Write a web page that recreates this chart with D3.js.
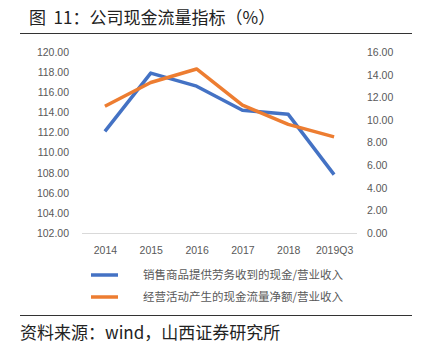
<!DOCTYPE html>
<html>
  <head>
    <meta charset="utf-8">
    <script src="https://d3js.org/d3.v7.min.js"></script>
    <style>
      body { margin: 0; background: #fff; }
      text { font-family: "Liberation Sans", Arial, sans-serif; }
      .cjk { font-family: "Noto Sans CJK SC", sans-serif; }
    </style>
  </head>
  <body>
    <svg width="424" height="349"></svg>
    <script>
      const years = ["2014", "2015", "2016", "2017", "2018", "2019Q3"];
      const salesCash = [112.1, 117.9, 116.6, 114.2, 113.8, 107.8];
      const opCashFlow = [11.2, 13.3, 14.5, 11.3, 9.6, 8.5];
      const leftTicks = [102, 104, 106, 108, 110, 112, 114, 116, 118, 120];
      const rightTicks = [0, 2, 4, 6, 8, 10, 12, 14, 16];
      const seriesNames = ["销售商品提供劳务收到的现金/营业收入", "经营活动产生的现金流量净额/营业收入"];
      const colors = ["#4472C4", "#ED7D31"];

      const svg = d3.select("svg");

      // title + rules
      svg.append("text").attr("class", "cjk")
        .attr("x", 29).attr("y", 24)
        .attr("font-size", 17).attr("fill", "#222")
        .style("white-space", "pre")
        .text("图  11：公司现金流量指标（%）");
      svg.append("line").attr("x1", 20).attr("x2", 412).attr("y1", 33.5).attr("y2", 33.5)
        .attr("stroke", "#333").attr("stroke-width", 1);
      svg.append("line").attr("x1", 20).attr("x2", 412).attr("y1", 315.5).attr("y2", 315.5)
        .attr("stroke", "#333").attr("stroke-width", 1);
      svg.append("text").attr("class", "cjk")
        .attr("x", 20).attr("y", 339)
        .attr("font-size", 17).attr("fill", "#222")
        .text("资料来源：wind，山西证券研究所");

      const plotL = 82, plotR = 357, plotT = 52, plotB = 233;

      const x = d3.scalePoint().domain(years).range([plotL, plotR]).padding(0.5);
      const yL = d3.scaleLinear().domain([102, 120]).range([plotB, plotT]);
      const yR = d3.scaleLinear().domain([0, 16]).range([plotB, plotT]);

      // baseline
      svg.append("line").attr("x1", plotL).attr("x2", plotR)
        .attr("y1", plotB + 0.5).attr("y2", plotB + 0.5)
        .attr("stroke", "#d9d9d9").attr("stroke-width", 1);

      const axL = svg.append("g").attr("transform", `translate(${plotL - 13},0)`)
        .call(d3.axisLeft(yL).tickValues(leftTicks).tickFormat(d3.format(".2f")).tickSize(0).tickPadding(0));
      const axR = svg.append("g").attr("transform", `translate(${plotR + 10},0)`)
        .call(d3.axisRight(yR).tickValues(rightTicks).tickFormat(d3.format(".2f")).tickSize(0).tickPadding(0));
      const axX = svg.append("g").attr("transform", `translate(0,${plotB + 14})`)
        .call(d3.axisBottom(x).tickSize(0).tickPadding(0));
      [axL, axR, axX].forEach(g => {
        g.select(".domain").remove();
        g.selectAll("text").attr("font-size", 10.5).attr("fill", "#595959")
          .style("font-family", "'Liberation Sans', Arial, sans-serif");
      });

      const lineL = d3.line().x((d, i) => x(years[i])).y(d => yL(d));
      const lineR = d3.line().x((d, i) => x(years[i])).y(d => yR(d));

      svg.append("path").datum(salesCash).attr("d", lineL)
        .attr("fill", "none").attr("stroke", colors[0]).attr("stroke-width", 3.5)
        .attr("stroke-linejoin", "round");
      svg.append("path").datum(opCashFlow).attr("d", lineR)
        .attr("fill", "none").attr("stroke", colors[1]).attr("stroke-width", 3.5)
        .attr("stroke-linejoin", "round");

      // legend
      const leg = svg.append("g");
      seriesNames.forEach((name, i) => {
        const ly = 275 + i * 22;
        leg.append("line").attr("x1", 91).attr("x2", 118).attr("y1", ly).attr("y2", ly)
          .attr("stroke", colors[i]).attr("stroke-width", 3.5);
        leg.append("text").attr("class", "cjk").attr("x", 143).attr("y", ly + 4)
          .attr("font-size", 11.5).attr("fill", "#595959").text(name);
      });
    </script>
  </body>
</html>
